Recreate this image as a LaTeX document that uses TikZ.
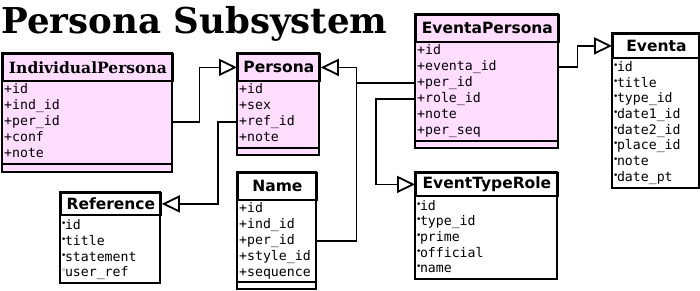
\documentclass[tikz,border=0pt]{standalone}
\usepackage{fontspec}
\setmainfont{DejaVu Serif}
\setsansfont{DejaVu Sans}
\setmonofont{DejaVu Sans Mono}
\usetikzlibrary{arrows.meta}
\definecolor{pinkbg}{RGB}{255,221,255}
\newcommand{\dotvis}{{\sffamily\fontsize{9pt}{9pt}\selectfont\raisebox{3pt}{\kern-1pt•\kern-1.5pt}}}
\newcommand{\ringvis}{{\sffamily\fontsize{9pt}{9pt}\selectfont\raisebox{3pt}{\kern-1pt◦\kern-1.5pt}}}

\begin{document}
\begin{tikzpicture}[x=1pt,y=-1pt,
    box/.style={draw,line width=1.8pt},
    hdr/.style={box,anchor=north west,inner sep=0pt,font=\sffamily\bfseries\fontsize{15.5pt}{15.5pt}\selectfont},
    row/.style={anchor=west,inner xsep=2pt,inner ysep=0pt,text width=#1,align=left,text height=10pt,text depth=3pt,font=\ttfamily\fontsize{13.2pt}{13.2pt}\selectfont},
    gen/.style={line width=1.8pt,-{Triangle[open,length=18pt,width=17pt]}}]
  \useasboundingbox (0,0) rectangle (700,290);
  \node[anchor=base west,inner sep=0pt,font=\rmfamily\bfseries\fontsize{35.6pt}{35.6pt}\selectfont](title)at(1,33){Persona Subsystem};

  % IndividualPersona
  \draw[box,fill=pinkbg] (2,53) rectangle (172,172);
  \node[hdr,minimum width=170pt,minimum height=27pt,font=\rmfamily\bfseries\fontsize{15.5pt}{15.5pt}\selectfont](ip)at(2,53){IndividualPersona};
  \draw[box] (2,164) -- (172,164);
  \node[row=166pt](ip1)at(2,90){+id};
  \node[row=166pt](ip2)at(2,106){+ind\_id};
  \node[row=166pt](ip3)at(2,122){+per\_id};
  \node[row=166pt](ip4)at(2,138){+conf};
  \node[row=166pt](ip5)at(2,154){+note};

  % Persona
  \draw[box,fill=pinkbg] (237,53) rectangle (319,155);
  \node[hdr,minimum width=82pt,minimum height=27pt](per)at(237,53){Persona};
  \draw[box] (237,148) -- (319,148);
  \node[row=78pt](per1)at(237,90){+id};
  \node[row=78pt](per2)at(237,106){+sex};
  \node[row=78pt](per3)at(237,122){+ref\_id};
  \node[row=78pt](per4)at(237,138){+note};

  % EventaPersona
  \draw[box,fill=pinkbg] (415,14) rectangle (558,148);
  \node[hdr,minimum width=143pt,minimum height=27pt](ep)at(415,14){EventaPersona};
  \draw[box] (415,141) -- (558,141);
  \node[row=139pt](ep1)at(415,51){+id};
  \node[row=139pt](ep2)at(415,67){+eventa\_id};
  \node[row=139pt](ep3)at(415,83){+per\_id};
  \node[row=139pt](ep4)at(415,99){+role\_id};
  \node[row=139pt](ep5)at(415,115){+note};
  \node[row=139pt](ep6)at(415,131){+per\_seq};

  % Eventa
  \draw[box,fill=white] (612,33) rectangle (699,188);
  \node[hdr,minimum width=87pt,minimum height=24pt](ev)at(612,33){Eventa};
  \node[row=83pt](ev1)at(612,68){\dotvis id};
  \node[row=83pt](ev2)at(612,84){\dotvis title};
  \node[row=83pt](ev3)at(612,99){\dotvis type\_id};
  \node[row=83pt](ev4)at(612,115){\dotvis date1\_id};
  \node[row=83pt](ev5)at(612,131){\dotvis date2\_id};
  \node[row=83pt](ev6)at(612,146){\dotvis place\_id};
  \node[row=83pt](ev7)at(612,162){\dotvis note};
  \node[row=83pt](ev8)at(612,178){\dotvis date\_pt};

  % Reference
  \draw[box,fill=white] (60,192) rectangle (160,283);
  \node[hdr,minimum width=100pt,minimum height=22pt](ref)at(60,192){Reference};
  \node[row=96pt](ref1)at(60,226){\dotvis id};
  \node[row=96pt](ref2)at(60,242){\dotvis title};
  \node[row=96pt](ref3)at(60,258){\dotvis statement};
  \node[row=96pt](ref4)at(60,273){\ringvis user\_ref};

  % Name
  \draw[box,fill=white] (237,172) rectangle (316,289);
  \node[hdr,minimum width=79pt,minimum height=27pt](nm)at(237,172){Name};
  \draw[box] (237,282) -- (316,282);
  \node[row=75pt](nm1)at(237,209){+id};
  \node[row=75pt](nm2)at(237,225){+ind\_id};
  \node[row=75pt](nm3)at(237,241){+per\_id};
  \node[row=75pt](nm4)at(237,257){+style\_id};
  \node[row=75pt](nm5)at(237,273){+sequence};

  % EventTypeRole
  \draw[box,fill=white] (415,172) rectangle (557,279);
  \node[hdr,minimum width=142pt,minimum height=23pt](etr)at(415,172){EventTypeRole};
  \node[row=138pt](etr1)at(415,207){\dotvis id};
  \node[row=138pt](etr2)at(415,222){\dotvis type\_id};
  \node[row=138pt](etr3)at(415,238){\dotvis prime};
  \node[row=138pt](etr4)at(415,254){\dotvis official};
  \node[row=138pt](etr5)at(415,269){\dotvis name};

  % generalisation links
  \draw[gen] (ip3.east) -- ++(27,0) |- (per.west);
  \draw[gen] (per3.west) -- ++(-19,0) |- (ref.east);
  \draw[gen] (nm3.east) -- ++(40,0) coordinate (bend) |- (per.east);
  \draw[line width=1.8pt] (ep3.west) -- (ep3.west -| bend);
  \draw[gen] (ep4.west) -- ++(-39,0) |- (etr.west);
  \draw[gen] (ep2.east) -- ++(19,0) |- (ev.west);
\end{tikzpicture}
\end{document}
